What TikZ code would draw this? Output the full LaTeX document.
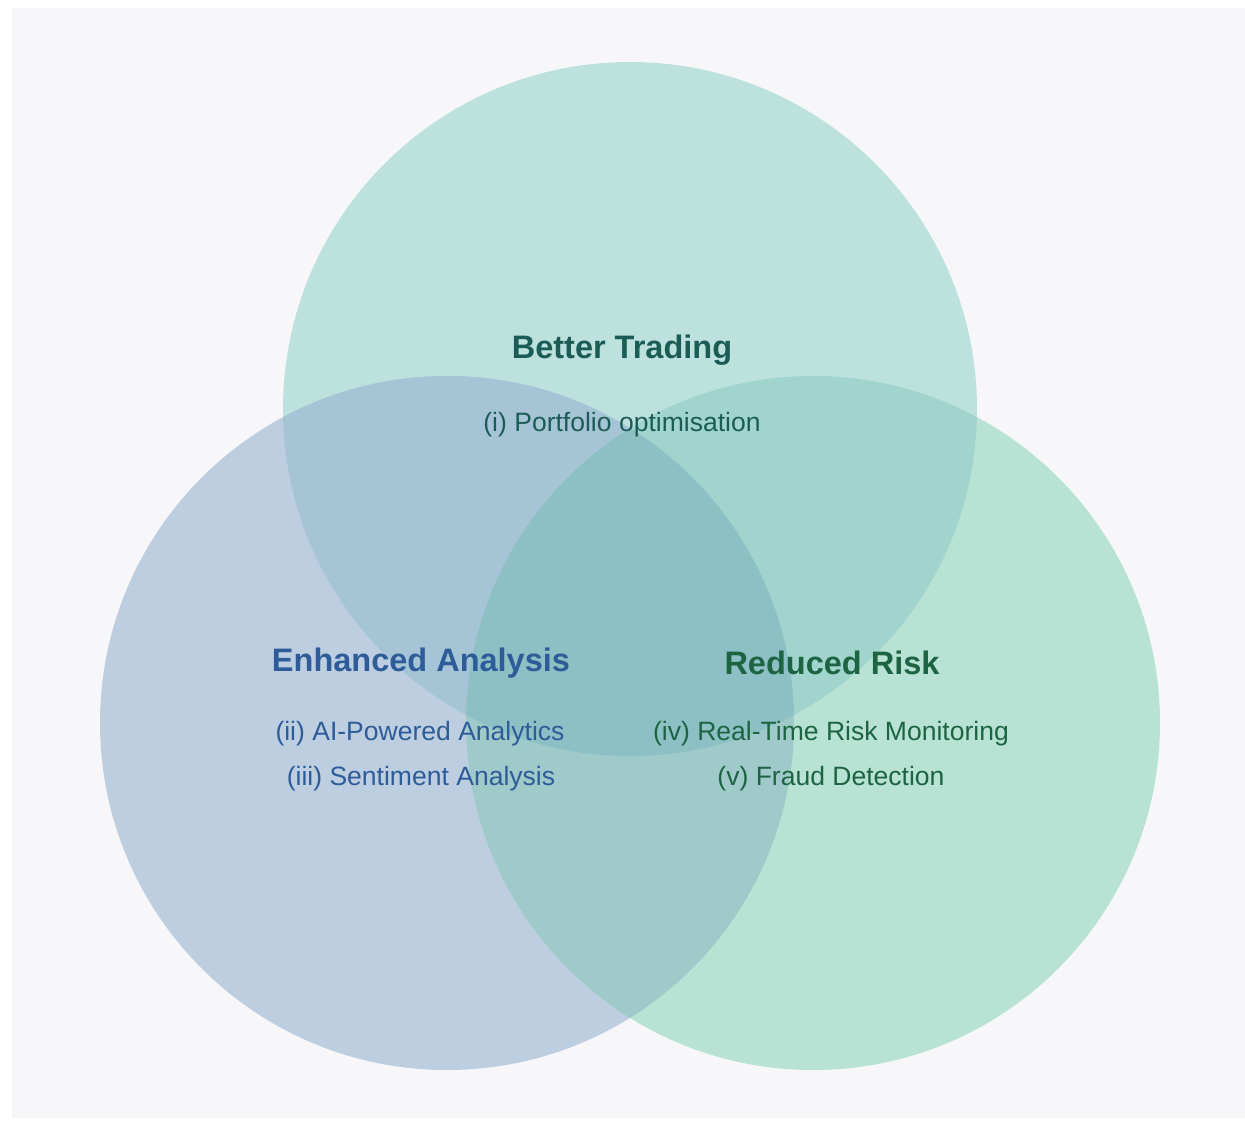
\documentclass[tikz,border=0pt]{standalone}
\usepackage{fontspec}
\setmainfont{Liberation Sans}
\definecolor{bgcol}{HTML}{F7F7FA}
\definecolor{tradecol}{HTML}{BDE2DE}
\definecolor{analcol}{HTML}{BCCEE0}
\definecolor{riskcol}{HTML}{B7E2D4}
\definecolor{tradeanal}{HTML}{A5C5D6}
\definecolor{traderisk}{HTML}{A0D4CD}
\definecolor{analrisk}{HTML}{A0CACA}
\definecolor{allthree}{HTML}{8CC0C4}
\definecolor{tradetxt}{HTML}{1C5C57}
\definecolor{analtxt}{HTML}{2D5C99}
\definecolor{risktxt}{HTML}{1D6443}
\tikzset{
  title/.style={font=\bfseries\fontsize{18.5}{22}\selectfont,text=#1},
  item/.style={font=\fontsize{15.1}{18}\selectfont,text=#1}
}
\def\tradecirc{(630,409) circle (347)}
\def\analcirc{(447,723) circle (347)}
\def\riskcirc{(813,723) circle (347)}
\begin{document}
\begin{tikzpicture}[x=0.02cm,y=-0.02cm]
        \fill[white] (0,0) rectangle (1245,1130);
        \fill[bgcol] (12,8) rectangle (1245,1118);
        \fill[tradecol] \tradecirc;
        \fill[analcol] \analcirc;
        \fill[riskcol] \riskcirc;
        % overlaps
        \begin{scope}
          \clip \tradecirc;
          \fill[tradeanal] \analcirc;
          \fill[traderisk] \riskcirc;
        \end{scope}
        \begin{scope}
          \clip \analcirc;
          \fill[analrisk] \riskcirc;
        \end{scope}
        \begin{scope}
          \clip \tradecirc;
          \clip \analcirc;
          \fill[allthree] \riskcirc;
        \end{scope}
        % labels
        \node[title=tradetxt] (trade) at (622,350){Better Trading};
        \node[item=tradetxt] (trade1) at (622,425){(i) Portfolio optimisation};
        \node[title=analtxt] (anal) at (421,663){Enhanced Analysis};
        \node[item=analtxt] (anal1) at (420,734){(ii) AI-Powered Analytics};
        \node[item=analtxt] (anal2) at (421,779){(iii) Sentiment Analysis};
        \node[title=risktxt] (risk) at (832,663){Reduced Risk};
        \node[item=risktxt] (risk1) at (831,734){(iv) Real-Time Risk Monitoring};
        \node[item=risktxt] (risk2) at (831,779){(v) Fraud Detection};
\end{tikzpicture}
\end{document}
